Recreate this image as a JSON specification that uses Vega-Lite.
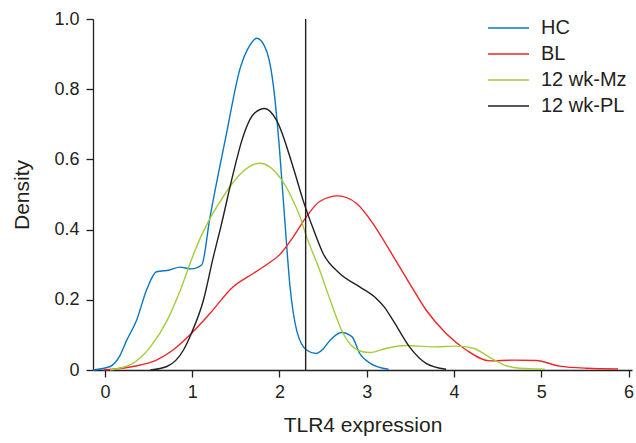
{
  "$schema": "https://vega.github.io/schema/vega-lite/v6.json",
  "width": 539,
  "height": 351,
  "autosize": {"type": "none"},
  "padding": {"left": 93, "top": 19, "right": 4, "bottom": 73},
  "background": "white",
  "config": {
    "view": {"stroke": null},
    "font": "Liberation Sans",
    "axis": {"grid": false, "domainColor": "#231f20", "tickColor": "#231f20", "labelColor": "#231f20", "titleColor": "#231f20", "labelFontSize": 18, "titleFontSize": 21, "titleFontWeight": "normal", "domainWidth": 1.3, "tickWidth": 1.3, "tickSize": 7}
  },
  "datasets": {
    "curves": [
      {"group": "HC", "x": -0.14, "y": 0}, {"group": "HC", "x": 0.06, "y": 0.01}, {"group": "HC", "x": 0.17, "y": 0.04}, {"group": "HC", "x": 0.25, "y": 0.085}, {"group": "HC", "x": 0.36, "y": 0.14}, {"group": "HC", "x": 0.48, "y": 0.23}, {"group": "HC", "x": 0.59, "y": 0.28}, {"group": "HC", "x": 0.74, "y": 0.285}, {"group": "HC", "x": 0.86, "y": 0.293}, {"group": "HC", "x": 0.99, "y": 0.288}, {"group": "HC", "x": 1.11, "y": 0.30}, {"group": "HC", "x": 1.2, "y": 0.43}, {"group": "HC", "x": 1.39, "y": 0.67}, {"group": "HC", "x": 1.55, "y": 0.86}, {"group": "HC", "x": 1.66, "y": 0.925}, {"group": "HC", "x": 1.74, "y": 0.945}, {"group": "HC", "x": 1.85, "y": 0.91}, {"group": "HC", "x": 1.93, "y": 0.81}, {"group": "HC", "x": 2.0, "y": 0.63}, {"group": "HC", "x": 2.06, "y": 0.43}, {"group": "HC", "x": 2.12, "y": 0.24}, {"group": "HC", "x": 2.2, "y": 0.11}, {"group": "HC", "x": 2.31, "y": 0.057}, {"group": "HC", "x": 2.42, "y": 0.047}, {"group": "HC", "x": 2.5, "y": 0.06}, {"group": "HC", "x": 2.58, "y": 0.085}, {"group": "HC", "x": 2.71, "y": 0.107}, {"group": "HC", "x": 2.83, "y": 0.095}, {"group": "HC", "x": 2.92, "y": 0.047}, {"group": "HC", "x": 3.04, "y": 0.019}, {"group": "HC", "x": 3.25, "y": 0.002},
      {"group": "BL", "x": -0.02, "y": 0}, {"group": "BL", "x": 0.32, "y": 0.01}, {"group": "BL", "x": 0.59, "y": 0.028}, {"group": "BL", "x": 0.78, "y": 0.057}, {"group": "BL", "x": 0.99, "y": 0.104}, {"group": "BL", "x": 1.2, "y": 0.16}, {"group": "BL", "x": 1.47, "y": 0.237}, {"group": "BL", "x": 1.7, "y": 0.275}, {"group": "BL", "x": 1.85, "y": 0.30}, {"group": "BL", "x": 2.0, "y": 0.328}, {"group": "BL", "x": 2.16, "y": 0.38}, {"group": "BL", "x": 2.31, "y": 0.437}, {"group": "BL", "x": 2.46, "y": 0.48}, {"group": "BL", "x": 2.67, "y": 0.496}, {"group": "BL", "x": 2.88, "y": 0.475}, {"group": "BL", "x": 3.07, "y": 0.418}, {"group": "BL", "x": 3.26, "y": 0.342}, {"group": "BL", "x": 3.49, "y": 0.247}, {"group": "BL", "x": 3.68, "y": 0.171}, {"group": "BL", "x": 3.91, "y": 0.104}, {"group": "BL", "x": 4.14, "y": 0.057}, {"group": "BL", "x": 4.41, "y": 0.026}, {"group": "BL", "x": 4.68, "y": 0.028}, {"group": "BL", "x": 4.94, "y": 0.027}, {"group": "BL", "x": 5.21, "y": 0.011}, {"group": "BL", "x": 5.52, "y": 0.005}, {"group": "BL", "x": 5.88, "y": 0.003},
      {"group": "12 wk-Mz", "x": 0.06, "y": 0}, {"group": "12 wk-Mz", "x": 0.32, "y": 0.019}, {"group": "12 wk-Mz", "x": 0.52, "y": 0.066}, {"group": "12 wk-Mz", "x": 0.71, "y": 0.14}, {"group": "12 wk-Mz", "x": 0.86, "y": 0.225}, {"group": "12 wk-Mz", "x": 1.0, "y": 0.32}, {"group": "12 wk-Mz", "x": 1.1, "y": 0.38}, {"group": "12 wk-Mz", "x": 1.2, "y": 0.43}, {"group": "12 wk-Mz", "x": 1.32, "y": 0.48}, {"group": "12 wk-Mz", "x": 1.44, "y": 0.525}, {"group": "12 wk-Mz", "x": 1.55, "y": 0.558}, {"group": "12 wk-Mz", "x": 1.66, "y": 0.58}, {"group": "12 wk-Mz", "x": 1.78, "y": 0.589}, {"group": "12 wk-Mz", "x": 1.88, "y": 0.58}, {"group": "12 wk-Mz", "x": 1.97, "y": 0.56}, {"group": "12 wk-Mz", "x": 2.08, "y": 0.52}, {"group": "12 wk-Mz", "x": 2.16, "y": 0.48}, {"group": "12 wk-Mz", "x": 2.23, "y": 0.44}, {"group": "12 wk-Mz", "x": 2.31, "y": 0.38}, {"group": "12 wk-Mz", "x": 2.46, "y": 0.285}, {"group": "12 wk-Mz", "x": 2.58, "y": 0.2}, {"group": "12 wk-Mz", "x": 2.73, "y": 0.104}, {"group": "12 wk-Mz", "x": 2.84, "y": 0.066}, {"group": "12 wk-Mz", "x": 2.95, "y": 0.052}, {"group": "12 wk-Mz", "x": 3.04, "y": 0.05}, {"group": "12 wk-Mz", "x": 3.23, "y": 0.062}, {"group": "12 wk-Mz", "x": 3.45, "y": 0.07}, {"group": "12 wk-Mz", "x": 3.76, "y": 0.066}, {"group": "12 wk-Mz", "x": 4.03, "y": 0.068}, {"group": "12 wk-Mz", "x": 4.22, "y": 0.062}, {"group": "12 wk-Mz", "x": 4.45, "y": 0.03}, {"group": "12 wk-Mz", "x": 4.6, "y": 0.012}, {"group": "12 wk-Mz", "x": 4.75, "y": 0.005}, {"group": "12 wk-Mz", "x": 5.04, "y": 0.002},
      {"group": "12 wk-PL", "x": 0.52, "y": 0}, {"group": "12 wk-PL", "x": 0.71, "y": 0.01}, {"group": "12 wk-PL", "x": 0.9, "y": 0.057}, {"group": "12 wk-PL", "x": 0.99, "y": 0.104}, {"group": "12 wk-PL", "x": 1.13, "y": 0.2}, {"group": "12 wk-PL", "x": 1.24, "y": 0.32}, {"group": "12 wk-PL", "x": 1.33, "y": 0.41}, {"group": "12 wk-PL", "x": 1.47, "y": 0.56}, {"group": "12 wk-PL", "x": 1.57, "y": 0.655}, {"group": "12 wk-PL", "x": 1.7, "y": 0.728}, {"group": "12 wk-PL", "x": 1.83, "y": 0.745}, {"group": "12 wk-PL", "x": 1.97, "y": 0.71}, {"group": "12 wk-PL", "x": 2.16, "y": 0.575}, {"group": "12 wk-PL", "x": 2.27, "y": 0.484}, {"group": "12 wk-PL", "x": 2.39, "y": 0.40}, {"group": "12 wk-PL", "x": 2.5, "y": 0.332}, {"group": "12 wk-PL", "x": 2.69, "y": 0.275}, {"group": "12 wk-PL", "x": 2.92, "y": 0.237}, {"group": "12 wk-PL", "x": 3.11, "y": 0.204}, {"group": "12 wk-PL", "x": 3.2, "y": 0.18}, {"group": "12 wk-PL", "x": 3.3, "y": 0.142}, {"group": "12 wk-PL", "x": 3.49, "y": 0.066}, {"group": "12 wk-PL", "x": 3.68, "y": 0.019}, {"group": "12 wk-PL", "x": 3.91, "y": 0.002}
    ],
    "cutoff": [{"x": 2.3}]
  },
  "layer": [
    {
      "data": {"name": "curves"},
      "mark": {"type": "line", "interpolate": "monotone", "strokeWidth": 1.4},
      "encoding": {
        "x": {"field": "x", "type": "quantitative", "scale": {"domain": [-0.137, 6.04], "nice": false, "zero": false}, "axis": {"values": [0, 1, 2, 3, 4, 5, 6], "format": "d", "title": "TLR4 expression", "titlePadding": 13, "labelPadding": 6}},
        "y": {"field": "y", "type": "quantitative", "scale": {"domain": [0, 1], "nice": false}, "axis": {"values": [0, 0.2, 0.4, 0.6, 0.8, 1.0], "labelExpr": "datum.value == 0 ? '0' : format(datum.value, '.1f')", "title": "Density", "titlePadding": 21, "labelPadding": 7}},
        "color": {"field": "group", "type": "nominal", "sort": ["HC", "BL", "12 wk-Mz", "12 wk-PL"], "scale": {"domain": ["HC", "BL", "12 wk-Mz", "12 wk-PL"], "range": ["#0a77c2", "#ee2428", "#a3cd3a", "#231f20"]},
          "legend": {"title": null, "orient": "none", "legendX": 394, "legendY": -4, "symbolType": "stroke", "symbolSize": 1681, "symbolStrokeWidth": 1.4, "labelFontSize": 20, "labelColor": "#231f20", "labelOffset": 11, "clipHeight": 26, "rowPadding": 0}},
        "detail": {"field": "group"}
      }
    },
    {
      "data": {"name": "cutoff"},
      "mark": {"type": "rule", "color": "#231f20", "strokeWidth": 1.4},
      "encoding": {"x": {"field": "x", "type": "quantitative"}}
    }
  ]
}
